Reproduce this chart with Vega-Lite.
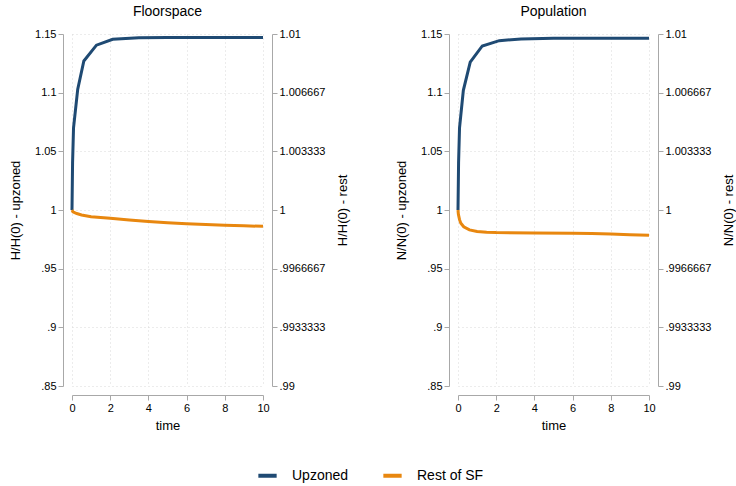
{
  "$schema": "https://vega.github.io/schema/vega-lite/v6.json",
  "background": "white",
  "padding": {"left": 9, "top": 5, "right": 0, "bottom": 5},
  "config": {
    "font": "Liberation Sans",
    "view": {"stroke": null},
    "axis": {
      "labelFont": "Liberation Sans", "titleFont": "Liberation Sans",
      "labelFontSize": 11, "titleFontSize": 13, "titleFontWeight": "normal",
      "labelColor": "#000", "titleColor": "#000",
      "domainColor": "#a8a8a8", "tickColor": "#a8a8a8", "tickSize": 5,
      "gridColor": "#d9d9d9", "gridDash": [1, 3], "gridWidth": 1,
      "labelOverlap": false, "labelFlush": false
    },
    "title": {"font": "Liberation Sans", "fontSize": 14, "fontWeight": "normal", "color": "#000"},
    "legend": {"labelFont": "Liberation Sans", "labelFontSize": 14, "labelColor": "#000"}
  },
  "data": {"values": [
    {"panel": "Floorspace", "series": "Upzoned", "time": 0, "value": 1.0},
    {"panel": "Floorspace", "series": "Upzoned", "time": 0.03, "value": 1.04},
    {"panel": "Floorspace", "series": "Upzoned", "time": 0.08, "value": 1.07},
    {"panel": "Floorspace", "series": "Upzoned", "time": 0.3, "value": 1.103},
    {"panel": "Floorspace", "series": "Upzoned", "time": 0.62, "value": 1.127},
    {"panel": "Floorspace", "series": "Upzoned", "time": 1.28, "value": 1.1405},
    {"panel": "Floorspace", "series": "Upzoned", "time": 2.13, "value": 1.1455},
    {"panel": "Floorspace", "series": "Upzoned", "time": 3.5, "value": 1.1468},
    {"panel": "Floorspace", "series": "Upzoned", "time": 5, "value": 1.147},
    {"panel": "Floorspace", "series": "Upzoned", "time": 10, "value": 1.147},
    {"panel": "Floorspace", "series": "Rest of SF", "time": 0, "value": 1.0},
    {"panel": "Floorspace", "series": "Rest of SF", "time": 0.05, "value": 0.99989},
    {"panel": "Floorspace", "series": "Rest of SF", "time": 0.25, "value": 0.9998},
    {"panel": "Floorspace", "series": "Rest of SF", "time": 0.5, "value": 0.99972},
    {"panel": "Floorspace", "series": "Rest of SF", "time": 1, "value": 0.99962},
    {"panel": "Floorspace", "series": "Rest of SF", "time": 2, "value": 0.99953},
    {"panel": "Floorspace", "series": "Rest of SF", "time": 3, "value": 0.99943},
    {"panel": "Floorspace", "series": "Rest of SF", "time": 4, "value": 0.99934},
    {"panel": "Floorspace", "series": "Rest of SF", "time": 5, "value": 0.99927},
    {"panel": "Floorspace", "series": "Rest of SF", "time": 6, "value": 0.99922},
    {"panel": "Floorspace", "series": "Rest of SF", "time": 7, "value": 0.99918},
    {"panel": "Floorspace", "series": "Rest of SF", "time": 8, "value": 0.99913},
    {"panel": "Floorspace", "series": "Rest of SF", "time": 9, "value": 0.9991},
    {"panel": "Floorspace", "series": "Rest of SF", "time": 10, "value": 0.99907},
    {"panel": "Population", "series": "Upzoned", "time": 0, "value": 1.0},
    {"panel": "Population", "series": "Upzoned", "time": 0.03, "value": 1.04},
    {"panel": "Population", "series": "Upzoned", "time": 0.08, "value": 1.07},
    {"panel": "Population", "series": "Upzoned", "time": 0.28, "value": 1.102},
    {"panel": "Population", "series": "Upzoned", "time": 0.64, "value": 1.126},
    {"panel": "Population", "series": "Upzoned", "time": 1.27, "value": 1.1398},
    {"panel": "Population", "series": "Upzoned", "time": 2.16, "value": 1.1443},
    {"panel": "Population", "series": "Upzoned", "time": 3.3, "value": 1.1458},
    {"panel": "Population", "series": "Upzoned", "time": 5, "value": 1.1463},
    {"panel": "Population", "series": "Upzoned", "time": 10, "value": 1.1464},
    {"panel": "Population", "series": "Rest of SF", "time": 0, "value": 1.0},
    {"panel": "Population", "series": "Rest of SF", "time": 0.02, "value": 0.99975},
    {"panel": "Population", "series": "Rest of SF", "time": 0.08, "value": 0.99945},
    {"panel": "Population", "series": "Rest of SF", "time": 0.15, "value": 0.99925},
    {"panel": "Population", "series": "Rest of SF", "time": 0.3, "value": 0.99905},
    {"panel": "Population", "series": "Rest of SF", "time": 0.6, "value": 0.99887},
    {"panel": "Population", "series": "Rest of SF", "time": 1, "value": 0.99878},
    {"panel": "Population", "series": "Rest of SF", "time": 1.5, "value": 0.99874},
    {"panel": "Population", "series": "Rest of SF", "time": 2, "value": 0.99872},
    {"panel": "Population", "series": "Rest of SF", "time": 4, "value": 0.99869},
    {"panel": "Population", "series": "Rest of SF", "time": 6, "value": 0.99868},
    {"panel": "Population", "series": "Rest of SF", "time": 7, "value": 0.99867},
    {"panel": "Population", "series": "Rest of SF", "time": 8, "value": 0.99863},
    {"panel": "Population", "series": "Rest of SF", "time": 9, "value": 0.99859},
    {"panel": "Population", "series": "Rest of SF", "time": 10, "value": 0.99856}
  ]},
  "bounds": "flush",
  "spacing": 195,
  "hconcat": [
    {
      "width": 191, "height": 352,
      "title": {"text": "Floorspace", "offset": 9},
      "transform": [{"filter": "datum.panel === 'Floorspace'"}],
      "layer": [
        {
          "transform": [{"filter": "datum.series === 'Upzoned'"}],
          "mark": {"type": "line", "strokeWidth": 3},
          "encoding": {
            "x": {"field": "time", "type": "quantitative", "scale": {"domain": [0, 10], "nice": false},
                  "axis": {"values": [0, 2, 4, 6, 8, 10], "title": "time", "offset": 9, "titlePadding": 6, "labelOverlap": false, "labelFlush": false}},
            "y": {"field": "value", "type": "quantitative", "scale": {"domain": [0.85, 1.15], "nice": false, "zero": false},
                  "axis": {"orient": "left", "offset": 9, "title": "H/H(0) - upzoned", "values": [0.85, 0.9, 0.95, 1, 1.05, 1.1, 1.15],
                           "labelExpr": "datum.value < 1 ? slice(format(datum.value, '.2~f'), 1) : format(datum.value, '.2~f')", "titlePadding": 12}},
            "color": {"field": "series", "type": "nominal",
                      "scale": {"domain": ["Upzoned", "Rest of SF"], "range": ["#1f4a73", "#e8870f"]},
                      "legend": {"orient": "none", "direction": "horizontal", "title": null, "symbolType": "stroke", "symbolStrokeWidth": 4, "symbolSize": 335, "columnPadding": 26, "labelOffset": 13, "legendX": 184, "legendY": 430}}
          }
        },
        {
          "transform": [{"filter": "datum.series === 'Rest of SF'"}],
          "mark": {"type": "line", "strokeWidth": 3},
          "encoding": {
            "x": {"field": "time", "type": "quantitative", "scale": {"domain": [0, 10], "nice": false},
                  "axis": {"values": [0, 2, 4, 6, 8, 10], "title": "time", "offset": 9, "titlePadding": 6, "labelOverlap": false, "labelFlush": false}},
            "y": {"field": "value", "type": "quantitative", "scale": {"domain": [0.99, 1.01], "nice": false, "zero": false},
                  "axis": {"orient": "right", "offset": 9, "grid": false, "title": "H/H(0) - rest", "titleAngle": 270, "titleBaseline": "top",
                           "values": [0.99, 0.9933333333, 0.9966666667, 1, 1.0033333333, 1.0066666667, 1.01],
                           "labelExpr": "datum.value < 1 ? slice(format(datum.value, '.7~g'), 1) : format(datum.value, '.7~g')", "titlePadding": 12}},
            "color": {"field": "series", "type": "nominal"}
          }
        }
      ],
      "resolve": {"scale": {"y": "independent"}}
    },
    {
      "width": 191, "height": 352,
      "title": {"text": "Population", "offset": 9},
      "transform": [{"filter": "datum.panel === 'Population'"}],
      "layer": [
        {
          "transform": [{"filter": "datum.series === 'Upzoned'"}],
          "mark": {"type": "line", "strokeWidth": 3},
          "encoding": {
            "x": {"field": "time", "type": "quantitative", "scale": {"domain": [0, 10], "nice": false},
                  "axis": {"values": [0, 2, 4, 6, 8, 10], "title": "time", "offset": 9, "titlePadding": 6, "labelOverlap": false, "labelFlush": false}},
            "y": {"field": "value", "type": "quantitative", "scale": {"domain": [0.85, 1.15], "nice": false, "zero": false},
                  "axis": {"orient": "left", "offset": 9, "title": "N/N(0) - upzoned", "values": [0.85, 0.9, 0.95, 1, 1.05, 1.1, 1.15],
                           "labelExpr": "datum.value < 1 ? slice(format(datum.value, '.2~f'), 1) : format(datum.value, '.2~f')", "titlePadding": 12}},
            "color": {"field": "series", "type": "nominal"}
          }
        },
        {
          "transform": [{"filter": "datum.series === 'Rest of SF'"}],
          "mark": {"type": "line", "strokeWidth": 3},
          "encoding": {
            "x": {"field": "time", "type": "quantitative", "scale": {"domain": [0, 10], "nice": false},
                  "axis": {"values": [0, 2, 4, 6, 8, 10], "title": "time", "offset": 9, "titlePadding": 6, "labelOverlap": false, "labelFlush": false}},
            "y": {"field": "value", "type": "quantitative", "scale": {"domain": [0.99, 1.01], "nice": false, "zero": false},
                  "axis": {"orient": "right", "offset": 9, "grid": false, "title": "N/N(0) - rest", "titleAngle": 270, "titleBaseline": "top",
                           "values": [0.99, 0.9933333333, 0.9966666667, 1, 1.0033333333, 1.0066666667, 1.01],
                           "labelExpr": "datum.value < 1 ? slice(format(datum.value, '.7~g'), 1) : format(datum.value, '.7~g')", "titlePadding": 12}},
            "color": {"field": "series", "type": "nominal"}
          }
        }
      ],
      "resolve": {"scale": {"y": "independent"}}
    }
  ]
}
